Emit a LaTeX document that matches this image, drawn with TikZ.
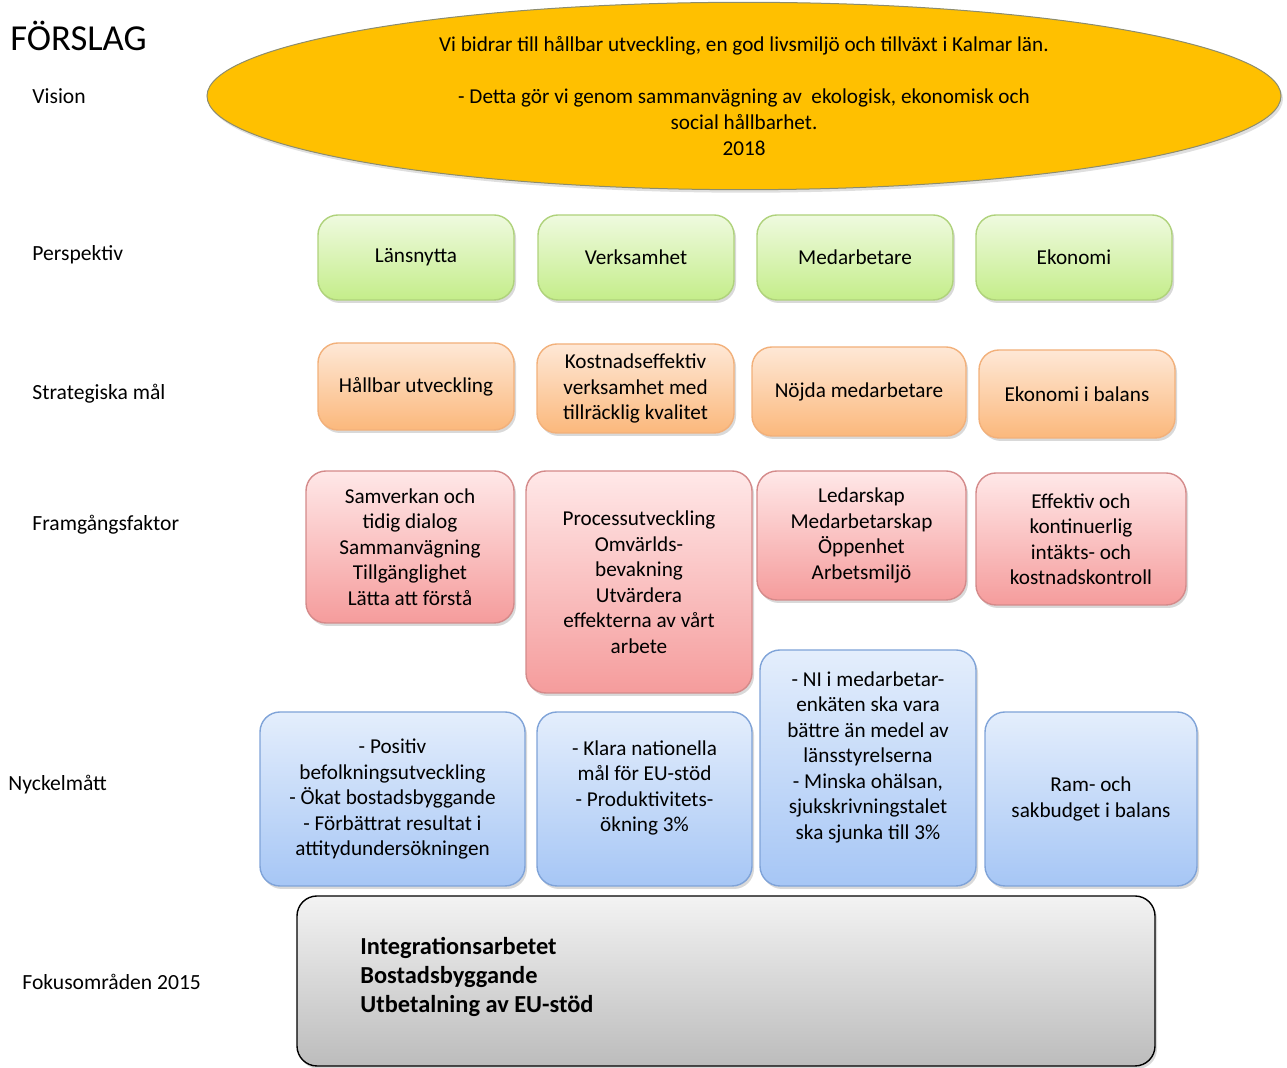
\documentclass[tikz,border=0pt]{standalone}
\usepackage{fontspec}
\setmainfont{Carlito}
\usetikzlibrary{shapes.geometric,shadows}

\definecolor{visionfill}{HTML}{FFC000}
\definecolor{visionline}{HTML}{8C8C6E}
\definecolor{persptop}{HTML}{EFFADF}
\definecolor{perspbot}{HTML}{C4ED8A}
\definecolor{perspline}{HTML}{AFD27B}
\definecolor{maltop}{HTML}{FEE8D6}
\definecolor{malbot}{HTML}{FBB87C}
\definecolor{malline}{HTML}{F2B07A}
\definecolor{faktortop}{HTML}{FFE8E8}
\definecolor{faktorbot}{HTML}{F59C9C}
\definecolor{faktorline}{HTML}{D48A8A}
\definecolor{matttop}{HTML}{E4EEFC}
\definecolor{mattbot}{HTML}{A6C6F5}
\definecolor{mattline}{HTML}{7FA3D8}
\definecolor{fokustop}{HTML}{F3F3F3}
\definecolor{fokusbot}{HTML}{BCBCBC}

\begin{document}
\begin{tikzpicture}[x=0.5pt,y=0.5pt,
	ruta/.style={rounded corners=10pt, line width=0.7pt, align=center, inner sep=2pt,
		font=\fontsize{10.6}{12.75}\selectfont,
		drop shadow={shadow xshift=1pt, shadow yshift=-1.5pt, opacity=0.3}},
	perspektiv/.style={ruta, draw=perspline, top color=persptop, bottom color=perspbot},
	malruta/.style={ruta, draw=malline, top color=maltop, bottom color=malbot},
	faktor/.style={ruta, draw=faktorline, top color=faktortop, bottom color=faktorbot},
	nyckel/.style={ruta, draw=mattline, top color=matttop, bottom color=mattbot},
	fokus/.style={ruta, draw=black, top color=fokustop, bottom color=fokusbot},
	rubrik/.style={anchor=west, inner sep=0pt, font=\fontsize{10.8}{12}\selectfont}]
\useasboundingbox (0,0) rectangle (1287,-1068);

% rubriker till vanster
\node[anchor=west, inner sep=0pt, font=\fontsize{18.3}{20}\selectfont] (forslag) at (10,-36) {FÖRSLAG};
\node[rubrik] (vision) at (32,-96) {Vision};
\node[rubrik] (persp) at (32,-255) {Perspektiv};
\node[rubrik] (strat) at (32,-394) {Strategiska mål};
\node[rubrik] (framg) at (32,-525) {Framgångsfaktor};
\node[rubrik] (nyckelmatt) at (8,-785) {Nyckelmått};
\node[rubrik] (fokusomr) at (22,-982) {Fokusområden 2015};

% vision
\node[ellipse, draw=visionline, line width=0.5pt, fill=visionfill, minimum width=537pt, minimum height=88pt,
	align=center, font=\fontsize{10.6}{13}\selectfont,
	drop shadow={shadow xshift=1pt, shadow yshift=-1.5pt, opacity=0.25}] (visionen) at (744,-96)
	{Vi bidrar till hållbar utveckling, en god livsmiljö och tillväxt i Kalmar län.\\[13pt]
	- Detta gör vi genom sammanvägning av\ \ ekologisk, ekonomisk och\\ social hållbarhet.\\ 2018};

% perspektiv
\node[perspektiv, minimum width=98pt, minimum height=42.5pt] (lansnytta) at (416,-257.5) {Länsnytta};
\node[perspektiv, minimum width=98pt, minimum height=42.5pt] (verksamhet) at (636,-257.5) {Verksamhet};
\node[perspektiv, minimum width=98pt, minimum height=42.5pt] (medarbetare) at (855,-257.5) {Medarbetare};
\node[perspektiv, minimum width=98pt, minimum height=42.5pt] (ekonomi) at (1074,-257.5) {Ekonomi};

% strategiska mal
\node[malruta, minimum width=98pt, minimum height=43.5pt] (hallbar) at (416,-386.5) {Hållbar utveckling};
\node[malruta, minimum width=98.5pt, minimum height=44.5pt] (kostnad) at (635.5,-388.5) {Kostnadseffektiv\\ verksamhet med\\ tillräcklig kvalitet};
\node[malruta, minimum width=107pt, minimum height=44.5pt] (nojda) at (859,-391.5) {Nöjda medarbetare};
\node[malruta, minimum width=98pt, minimum height=44pt] (balans) at (1077,-394) {Ekonomi i balans};

% framgangsfaktorer
\node[faktor, minimum width=104pt, minimum height=76pt] (samverkan) at (410,-547) {Samverkan och\\ tidig dialog\\ Sammanvägning\\ Tillgänglighet\\ Lätta att förstå};
\node[faktor, minimum width=113pt, minimum height=111pt] (process) at (639,-582) {Processutveckling\\ Omvärlds-\\ bevakning\\ Utvärdera\\ effekterna av\ vårt\\ arbete};
\node[faktor, minimum width=104.5pt, minimum height=64.5pt] (ledarskap) at (861.5,-535.5) {Ledarskap\\ Medarbetarskap\\ Öppenhet\\ Arbetsmiljö};
\node[faktor, minimum width=105pt, minimum height=66pt] (kontroll) at (1081,-539) {Effektiv och\\ kontinuerlig\\ intäkts- och\\ kostnadskontroll};

% nyckelmatt
\node[nyckel, minimum width=132.5pt, minimum height=87pt] (befolkning) at (392.5,-799) {- Positiv\\ befolkningsutveckling\\ - Ökat bostadsbyggande\\ - Förbättrat resultat i\\ attitydundersökningen};
\node[nyckel, minimum width=107.5pt, minimum height=87pt] (eustod) at (644.5,-799) {- Klara nationella\\ mål för EU-stöd\\ - Produktivitets-\\ ökning 3\%\\ \mbox{}};
\node[nyckel, minimum width=108pt, minimum height=118pt] (enkat) at (868,-768) {- NI i medarbetar-\\ enkäten ska vara\\ bättre än medel av\\ länsstyrelserna\\ - Minska ohälsan,\\ sjukskrivningstalet\\ ska sjunka till 3\%\\ \mbox{}};
\node[nyckel, minimum width=106pt, minimum height=87pt] (budget) at (1091,-799) {Ram- och\\ sakbudget i balans};

% fokusomraden
\node[fokus, minimum width=429pt, minimum height=85pt] (fokusruta) at (726,-981) {};
\node[anchor=west, inner sep=0pt, align=left, font=\bfseries\fontsize{12.2}{14.7}\selectfont] (fokustext) at (360,-977)
	{Integrationsarbetet\\ Bostadsbyggande\\ Utbetalning av EU-stöd};
\end{tikzpicture}
\end{document}
